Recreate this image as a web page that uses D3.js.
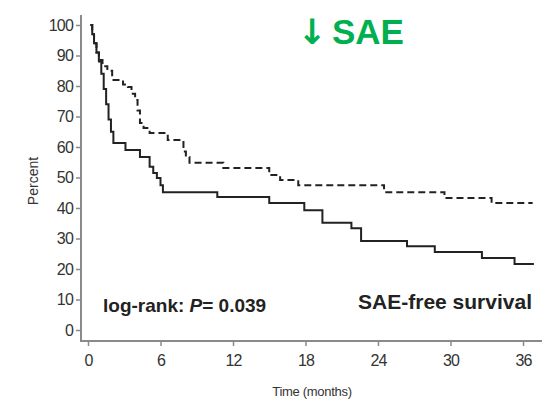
<!DOCTYPE html>
<html>
<head>
<meta charset="utf-8">
<script src="https://cdn.jsdelivr.net/npm/d3@7"></script>
<style>
  body { margin: 0; background: #fff; }
  svg { display: block; font-family: "Liberation Sans", Arial, sans-serif; }
</style>
</head>
<body>
<svg id="chart" width="551" height="401"></svg>
<script>
// Kaplan-Meier style step curves: [time in months, percent]
const solidCurve = [
  [0.2, 100], [0.35, 97], [0.5, 94], [0.7, 91], [0.9, 88], [1.1, 84], [1.3, 79],
  [1.5, 74], [1.7, 69], [1.9, 65], [2.1, 61.3], [3.1, 59], [4.3, 56.7], [5.1, 53.5],
  [5.4, 51.5], [5.7, 49.8], [6.0, 47.5], [6.2, 45.2], [10.7, 43.6], [15.0, 41.6],
  [17.9, 39.3], [19.4, 35.2], [21.8, 33.4], [22.6, 29.2], [26.4, 27.5], [28.7, 25.6],
  [32.6, 23.6], [35.3, 21.6], [36.9, 21.6]
];
const dashedCurve = [
  [0.2, 100], [0.35, 97], [0.5, 94], [0.7, 91], [0.9, 88.5], [1.2, 86.5], [1.6, 85],
  [2.0, 82], [2.9, 80.5], [3.3, 79.7], [3.6, 77.5], [3.9, 75.4], [4.1, 72], [4.3, 67.9],
  [4.6, 66.2], [5.1, 64.6], [6.6, 62.3], [7.9, 58.5], [8.1, 56.7], [8.4, 54.8],
  [11.2, 53.1], [15.0, 50.8], [15.9, 49.2], [17.4, 47.5], [24.5, 45.2], [29.5, 43.3],
  [33.4, 41.6], [36.8, 41.6]
];
const yTicks = [0, 10, 20, 30, 40, 50, 60, 70, 80, 90, 100];
const xTicks = [0, 6, 12, 18, 24, 30, 36];
const yLabel = "Percent";
const xLabel = "Time (months)";
const titleArrow = "↓";
const title = "SAE";
const panelLabel = "SAE-free survival";

const svg = d3.select("#chart");
const x = d3.scaleLinear().domain([0, 36]).range([88, 523]);
const y = d3.scaleLinear().domain([0, 100]).range([330, 25]);

const axisColor = "#8a8a8a";

// y axis
const gy = svg.append("g").attr("transform", "translate(81,0)")
  .call(d3.axisLeft(y).tickValues(yTicks).tickSize(5).tickPadding(3));
gy.select(".domain").remove();
gy.selectAll(".tick line").attr("stroke", axisColor).attr("stroke-width", 1.5);
gy.selectAll(".tick text").attr("fill", "#333").style("font-size", "16px")
  .style("letter-spacing", "-0.8px");
svg.append("line").attr("x1", 81).attr("x2", 81).attr("y1", 15).attr("y2", 341)
  .attr("stroke", axisColor).attr("stroke-width", 2);

// x axis
const gx = svg.append("g").attr("transform", "translate(0,341)")
  .call(d3.axisBottom(x).tickValues(xTicks).tickSize(5).tickPadding(9));
gx.select(".domain").remove();
gx.selectAll(".tick line").attr("stroke", axisColor).attr("stroke-width", 1.5);
gx.selectAll(".tick text").attr("fill", "#333").style("font-size", "16px")
  .style("letter-spacing", "-0.8px");
svg.append("line").attr("x1", 80).attr("x2", 542).attr("y1", 341).attr("y2", 341)
  .attr("stroke", axisColor).attr("stroke-width", 2);

// curves
const line = d3.line().x(d => x(d[0])).y(d => y(d[1])).curve(d3.curveStepAfter);
svg.append("path").datum(solidCurve).attr("d", line)
  .attr("fill", "none").attr("stroke", "#222").attr("stroke-width", 2);
svg.append("path").datum(dashedCurve).attr("d", line)
  .attr("fill", "none").attr("stroke", "#222").attr("stroke-width", 2)
  .attr("stroke-dasharray", "7,4");

// labels
svg.append("text").attr("transform", "translate(38,181) rotate(-90)")
  .attr("text-anchor", "middle").attr("fill", "#333").style("font-size", "14px")
  .text(yLabel);
svg.append("text").attr("x", 312).attr("y", 396).attr("text-anchor", "middle")
  .attr("fill", "#333").style("font-size", "13px").style("letter-spacing", "-0.3px")
  .text(xLabel);

svg.append("text").attr("x", 312).attr("y", 44).attr("text-anchor", "middle")
  .attr("fill", "#00b050").style("font-family", "DejaVu Sans")
  .style("font-size", "35px").style("font-weight", "bold").text(titleArrow);
svg.append("text").attr("x", 332).attr("y", 44).attr("fill", "#00b050")
  .style("font-size", "35px").style("font-weight", "bold").text(title);

const lr = svg.append("text").attr("x", 103).attr("y", 312).attr("fill", "#222")
  .style("font-size", "19px").style("font-weight", "bold");
lr.append("tspan").text("log-rank: ");
lr.append("tspan").style("font-style", "italic").text("P");
lr.append("tspan").text("= 0.039");

svg.append("text").attr("x", 532).attr("y", 309).attr("text-anchor", "end")
  .attr("fill", "#222").style("font-size", "21px").style("font-weight", "bold")
  .text(panelLabel);
</script>
</body>
</html>
